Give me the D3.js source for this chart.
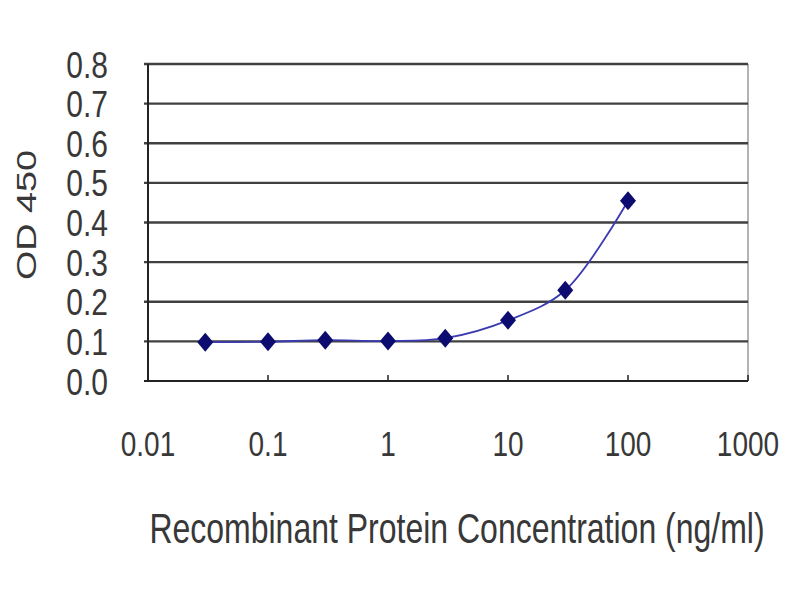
<!DOCTYPE html>
<html lang="en">
<head>
  <meta charset="utf-8" />
  <style>
    body { margin: 0; background: #fff; }
    text { font-family: "Liberation Sans", Arial, sans-serif; fill: #383838; }
  </style>
</head>
<body>
<svg width="800" height="600"></svg>
<script src="https://d3js.org/d3.v7.min.js"></script>
<script>
// concentration (ng/ml) and OD 450 readings
var conc = [0.03, 0.1, 0.3, 1, 3, 10, 30, 100],
    od = [0.098, 0.099, 0.103, 0.101, 0.108, 0.153, 0.229, 0.455];

var xTicks = [0.01, 0.1, 1, 10, 100, 1000],
    xTickLabels = ["0.01", "0.1", "1", "10", "100", "1000"],
    yTicks = [0, 0.1, 0.2, 0.3, 0.4, 0.5, 0.6, 0.7, 0.8],
    yTickLabels = ["0.0", "0.1", "0.2", "0.3", "0.4", "0.5", "0.6", "0.7", "0.8"];

var svg = d3.select("svg"),
    plotLeft = 148, plotRight = 748, plotTop = 64, plotBottom = 381,
    stretch = 1.25;

var x = d3.scaleLog().domain([0.01, 1000]).range([plotLeft, plotRight]),
    y = d3.scaleLinear().domain([0, 0.8]).range([plotBottom, plotTop]);

svg.append("rect").attr("width", 800).attr("height", 600).attr("fill", "#fff");

// right frame edge
svg.append("line")
    .attr("x1", plotRight).attr("x2", plotRight).attr("y1", plotTop).attr("y2", plotBottom)
    .attr("stroke", "#9a9a9a").attr("stroke-width", 1.5);

// gridlines
svg.append("g")
  .selectAll("line")
  .data(yTicks.slice(1))
  .enter().append("line")
    .attr("x1", plotLeft - 4).attr("x2", plotRight)
    .attr("y1", function(d) { return y(d); })
    .attr("y2", function(d) { return y(d); })
    .attr("stroke", "#404040").attr("stroke-width", 2.4);

// axes lines
svg.append("line")
    .attr("x1", plotLeft).attr("x2", plotLeft).attr("y1", plotTop).attr("y2", plotBottom)
    .attr("stroke", "#222").attr("stroke-width", 2);
svg.append("line")
    .attr("x1", plotLeft - 4).attr("x2", plotRight).attr("y1", plotBottom).attr("y2", plotBottom)
    .attr("stroke", "#222").attr("stroke-width", 2.2);

// x tick marks (inside)
svg.append("g")
  .selectAll("line")
  .data(xTicks)
  .enter().append("line")
    .attr("x1", function(d) { return x(d); })
    .attr("x2", function(d) { return x(d); })
    .attr("y1", plotBottom).attr("y2", plotBottom - 6)
    .attr("stroke", "#222").attr("stroke-width", 1.5);

// tick labels
svg.append("g")
  .selectAll("text")
  .data(yTicks)
  .enter().append("text")
    .attr("text-anchor", "end")
    .attr("font-size", 30)
    .attr("transform", function(d) { return "translate(108," + y(d) + ") scale(1," + stretch + ")"; })
    .attr("dy", "0.36em")
    .text(function(d, i) { return yTickLabels[i]; });

svg.append("g")
  .selectAll("text")
  .data(xTicks)
  .enter().append("text")
    .attr("text-anchor", "middle")
    .attr("font-size", 28)
    .attr("transform", function(d) { return "translate(" + x(d) + ",456) scale(1," + stretch + ")"; })
    .text(function(d, i) { return xTickLabels[i]; });

// axis titles
svg.append("text")
    .attr("text-anchor", "middle")
    .attr("font-size", 32)
    .attr("transform", "translate(457,543) scale(1," + (stretch + 0.08) + ")")
    .text("Recombinant Protein Concentration (ng/ml)");

svg.append("text")
    .attr("text-anchor", "middle")
    .attr("font-size", 28)
    .attr("transform", "translate(36,215) scale(1," + (stretch + 0.1) + ") rotate(-90)")
    .text("OD 450");

// series
var pts = conc.map(function(c, i) { return [x(c), y(od[i])]; });

svg.append("path")
    .attr("d", d3.line().curve(d3.curveCatmullRom.alpha(0.5))(pts))
    .attr("fill", "none")
    .attr("stroke", "#3b3bb0")
    .attr("stroke-width", 1.8);

svg.append("g")
  .selectAll("path")
  .data(pts)
  .enter().append("path")
    .attr("transform", function(d) { return "translate(" + d[0] + "," + d[1] + ")"; })
    .attr("d", "M0,-9.5L8,0L0,9.5L-8,0Z")
    .attr("fill", "#0c0c70");
</script>
</body>
</html>
